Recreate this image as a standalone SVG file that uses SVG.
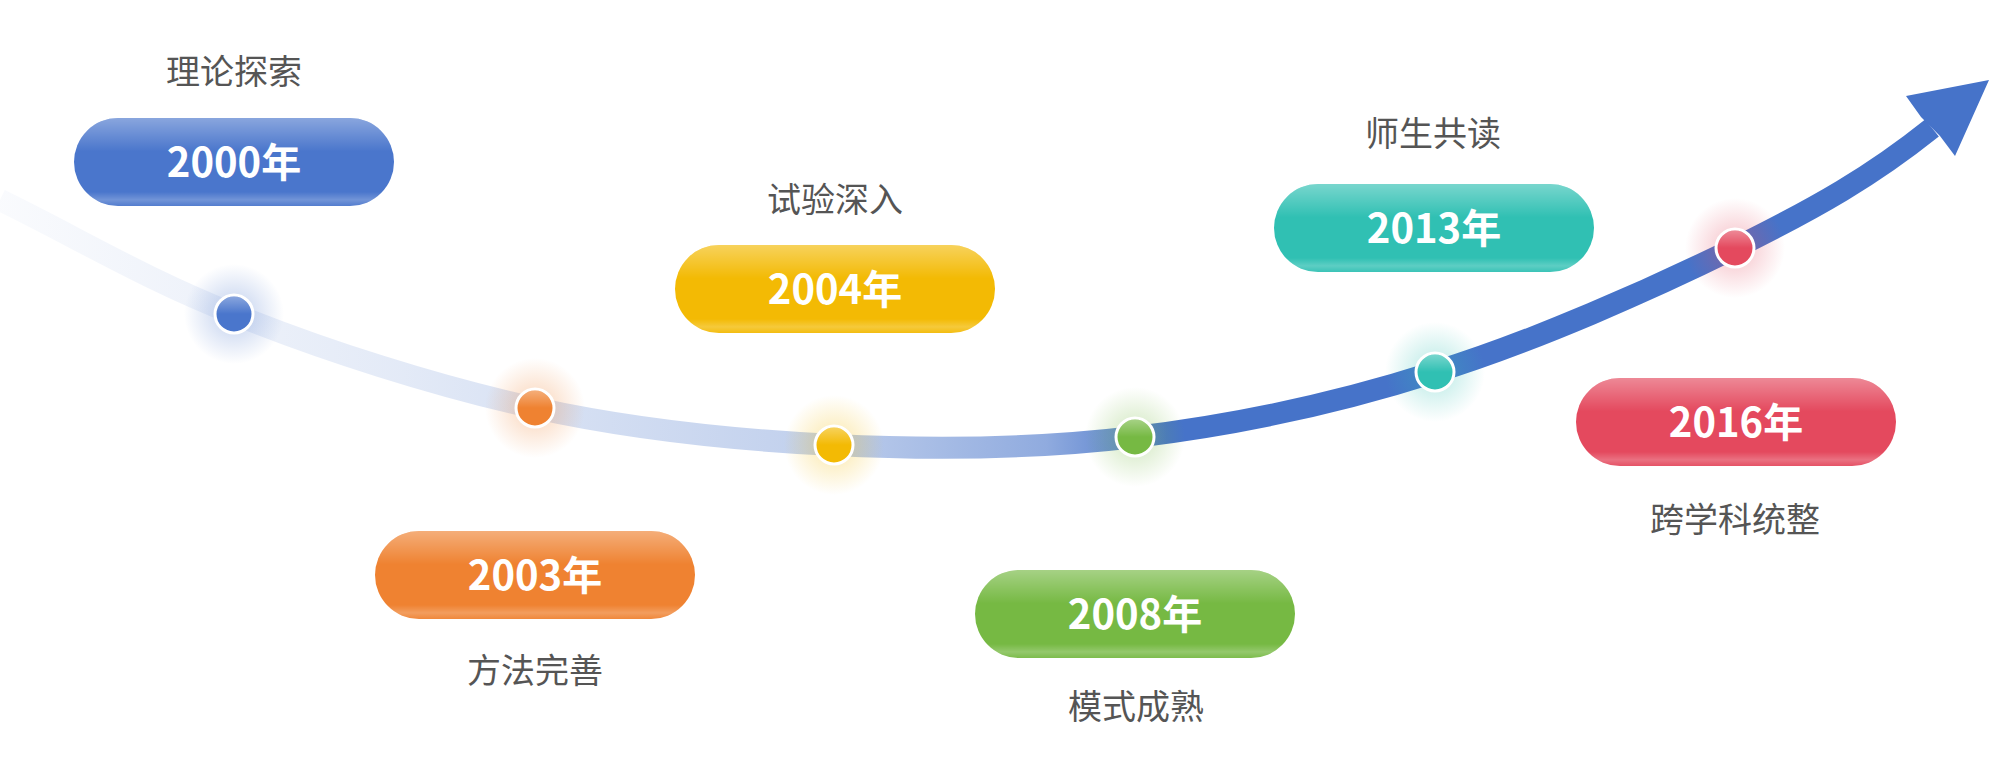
<svg xmlns="http://www.w3.org/2000/svg" width="2012" height="766" viewBox="0 0 2012 766">
<style>
.lbl{font-family:"Noto Sans CJK SC","Noto Sans",sans-serif;font-size:34px;fill:#555555;text-anchor:middle}
.yr{font-family:"Noto Sans CJK SC","Noto Sans",sans-serif;font-size:40px;font-weight:bold;fill:#ffffff;text-anchor:middle}
.shine{fill:url(#shine)}
.dot{stroke:#ffffff;stroke-width:3}
</style>
<defs>
<linearGradient id="curveGrad" gradientUnits="userSpaceOnUse" x1="0" y1="0" x2="2012" y2="0">
<stop offset="0" stop-color="#4673c9" stop-opacity="0.03"/>
<stop offset="0.2" stop-color="#4673c9" stop-opacity="0.15"/>
<stop offset="0.4" stop-color="#4673c9" stop-opacity="0.33"/>
<stop offset="0.52" stop-color="#4673c9" stop-opacity="0.6"/>
<stop offset="0.58" stop-color="#4673c9" stop-opacity="1"/>
<stop offset="1" stop-color="#4673c9" stop-opacity="1"/>
</linearGradient>
<linearGradient id="shine" x1="0" y1="0" x2="0" y2="1">
<stop offset="0" stop-color="#ffffff" stop-opacity="0.35"/>
<stop offset="0.38" stop-color="#ffffff" stop-opacity="0"/>
<stop offset="0.84" stop-color="#ffffff" stop-opacity="0"/>
<stop offset="0.93" stop-color="#ffffff" stop-opacity="0.22"/>
<stop offset="1" stop-color="#ffffff" stop-opacity="0.05"/>
</linearGradient>
<radialGradient id="gBlue"><stop offset="0.3" stop-color="#4a76cc" stop-opacity="0.25"/><stop offset="1" stop-color="#4a76cc" stop-opacity="0"/></radialGradient>
<radialGradient id="gOrange"><stop offset="0.3" stop-color="#ef8231" stop-opacity="0.25"/><stop offset="1" stop-color="#ef8231" stop-opacity="0"/></radialGradient>
<radialGradient id="gYellow"><stop offset="0.3" stop-color="#f3ba04" stop-opacity="0.25"/><stop offset="1" stop-color="#f3ba04" stop-opacity="0"/></radialGradient>
<radialGradient id="gGreen"><stop offset="0.3" stop-color="#76b943" stop-opacity="0.25"/><stop offset="1" stop-color="#76b943" stop-opacity="0"/></radialGradient>
<radialGradient id="gTeal"><stop offset="0.3" stop-color="#30c0b3" stop-opacity="0.25"/><stop offset="1" stop-color="#30c0b3" stop-opacity="0"/></radialGradient>
<radialGradient id="gRed"><stop offset="0.3" stop-color="#e4495e" stop-opacity="0.25"/><stop offset="1" stop-color="#e4495e" stop-opacity="0"/></radialGradient>
<linearGradient id="dotShine" x1="0" y1="0" x2="0" y2="1">
<stop offset="0" stop-color="#ffffff" stop-opacity="0.35"/>
<stop offset="0.5" stop-color="#ffffff" stop-opacity="0"/>
</linearGradient>
</defs>
<rect width="2012" height="766" fill="#ffffff"/>

<g id="connectors">
<path d="M0,200 C78,238 145,279 234,314 C323,350 435,386 535,408 C635,430 734,440 834,445 C934,450 1035,449 1135,437 C1235,425 1335,404 1435,372 C1535,341 1652,289 1735,248 C1818,207 1872,176 1932,128" fill="none" stroke="url(#curveGrad)" stroke-width="22"/>
<polygon points="1989,80 1906,96 1921,117 1940,136 1955,156" fill="#4673c9"/>
</g>

<g id="dot-2000">
<circle cx="234" cy="314" r="50" fill="url(#gBlue)"/>
<circle class="dot" cx="234" cy="314" r="19" fill="#4a76cc"/>
<circle cx="234" cy="314" r="17.5" fill="url(#dotShine)"/>
</g>
<g id="dot-2003">
<circle cx="535" cy="408" r="50" fill="url(#gOrange)"/>
<circle class="dot" cx="535" cy="408" r="19" fill="#ef8231"/>
<circle cx="535" cy="408" r="17.5" fill="url(#dotShine)"/>
</g>
<g id="dot-2004">
<circle cx="834" cy="445" r="50" fill="url(#gYellow)"/>
<circle class="dot" cx="834" cy="445" r="19" fill="#f3ba04"/>
<circle cx="834" cy="445" r="17.5" fill="url(#dotShine)"/>
</g>
<g id="dot-2008">
<circle cx="1135" cy="437" r="50" fill="url(#gGreen)"/>
<circle class="dot" cx="1135" cy="437" r="19" fill="#76b943"/>
<circle cx="1135" cy="437" r="17.5" fill="url(#dotShine)"/>
</g>
<g id="dot-2013">
<circle cx="1435" cy="372" r="50" fill="url(#gTeal)"/>
<circle class="dot" cx="1435" cy="372" r="19" fill="#30c0b3"/>
<circle cx="1435" cy="372" r="17.5" fill="url(#dotShine)"/>
</g>
<g id="dot-2016">
<circle cx="1735" cy="248" r="50" fill="url(#gRed)"/>
<circle class="dot" cx="1735" cy="248" r="19" fill="#e4495e"/>
<circle cx="1735" cy="248" r="17.5" fill="url(#dotShine)"/>
</g>

<g id="node-2000">
<text class="lbl" x="234" y="84">理论探索</text>
<rect x="74" y="118" width="320" height="88" rx="44" fill="#4a76cc"/>
<rect class="shine" x="74" y="118" width="320" height="88" rx="44"/>
<text class="yr" x="234" y="177">2000年</text>
</g>
<g id="node-2003">
<rect x="375" y="531" width="320" height="88" rx="44" fill="#ef8231"/>
<rect class="shine" x="375" y="531" width="320" height="88" rx="44"/>
<text class="yr" x="535" y="590">2003年</text>
<text class="lbl" x="535" y="683">方法完善</text>
</g>
<g id="node-2004">
<text class="lbl" x="835" y="212">试验深入</text>
<rect x="675" y="245" width="320" height="88" rx="44" fill="#f3ba04"/>
<rect class="shine" x="675" y="245" width="320" height="88" rx="44"/>
<text class="yr" x="835" y="304">2004年</text>
</g>
<g id="node-2008">
<rect x="975" y="570" width="320" height="88" rx="44" fill="#76b943"/>
<rect class="shine" x="975" y="570" width="320" height="88" rx="44"/>
<text class="yr" x="1135" y="629">2008年</text>
<text class="lbl" x="1136" y="719">模式成熟</text>
</g>
<g id="node-2013">
<text class="lbl" x="1433" y="146">师生共读</text>
<rect x="1274" y="184" width="320" height="88" rx="44" fill="#30c0b3"/>
<rect class="shine" x="1274" y="184" width="320" height="88" rx="44"/>
<text class="yr" x="1434" y="243">2013年</text>
</g>
<g id="node-2016">
<rect x="1576" y="378" width="320" height="88" rx="44" fill="#e4495e"/>
<rect class="shine" x="1576" y="378" width="320" height="88" rx="44"/>
<text class="yr" x="1736" y="437">2016年</text>
<text class="lbl" x="1735" y="532">跨学科统整</text>
</g>
</svg>
